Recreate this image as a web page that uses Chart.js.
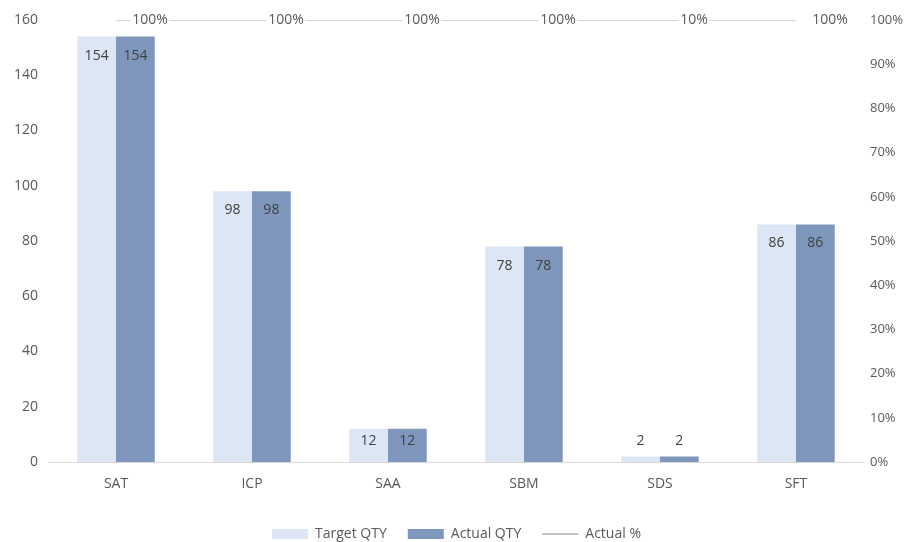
<!DOCTYPE html>
<html>
<head>
<meta charset="utf-8">
<script src="https://cdn.jsdelivr.net/npm/chart.js@4/dist/chart.umd.min.js"></script>
<style>
  html, body { margin: 0; padding: 0; background: #fff; }
  .chart-box { width: 909px; height: 542px; }
</style>
</head>
<body>
<div class="chart-box"><canvas id="chart"></canvas></div>
<script>
const categories = ["SAT", "ICP", "SAA", "SBM", "SDS", "SFT"];
const targetQty = [154, 98, 12, 78, 2, 86];
const actualQty = [154, 98, 12, 78, 2, 86];
const actualPct = [1, 1, 1, 1, 1, 1];
const pctLabels = ["100%", "100%", "100%", "100%", "10%", "100%"];

const textColor = "#595959";
const fontFamily = "'Open Sans', 'Liberation Sans', sans-serif";

// value labels: inside the bar top, or above it when the bar is short
const labelPlugin = {
    id: "valueLabels",
    afterDatasetsDraw(chart) {
        const ctx = chart.ctx;
        ctx.save();
        ctx.font = "14px " + fontFamily;
        ctx.textAlign = "center";
        ctx.textBaseline = "middle";
        [0, 1].forEach(di => {
            const meta = chart.getDatasetMeta(di);
            const values = chart.data.datasets[di].data;
            meta.data.forEach((bar, i) => {
                const h = bar.base - bar.y;
                let y = h >= 30 ? bar.y + Math.min(19, h / 2 - 4) : bar.y - 15;
                ctx.fillStyle = "#404040";
                ctx.fillText(String(values[i]), bar.x, y);
            });
        });
        const lineMeta = chart.getDatasetMeta(2);
        lineMeta.data.forEach((pt, i) => {
            const txt = pctLabels[i];
            const x = pt.x + 34;
            const w = ctx.measureText(txt).width + 4;
            ctx.fillStyle = "#fff";
            ctx.fillRect(x - w / 2, pt.y - 8, w, 16);
            ctx.fillStyle = textColor;
            ctx.fillText(txt, x, pt.y);
        });
        ctx.restore();
    }
};

new Chart(document.getElementById("chart"), {
    data: {
        labels: categories,
        datasets: [
            {
                type: "bar",
                label: "Target QTY",
                data: targetQty,
                backgroundColor: "#DCE6F4",
                yAxisID: "y",
                order: 2
            },
            {
                type: "bar",
                label: "Actual QTY",
                data: actualQty,
                backgroundColor: "#8097BD",
                yAxisID: "y",
                order: 2
            },
            {
                type: "line",
                label: "Actual %",
                data: actualPct,
                borderColor: "#C9C9C9",
                borderWidth: 1.5,
                pointRadius: 0,
                yAxisID: "y1",
                order: 1
            }
        ]
    },
    options: {
        responsive: true,
        maintainAspectRatio: false,
        animation: false,
        datasets: {
            bar: { categoryPercentage: 0.57, barPercentage: 1 }
        },
        layout: { padding: { left: 4, right: 0, top: 20, bottom: -9 } },
        plugins: {
            tooltip: { enabled: false },
            legend: {
                position: "bottom",
                labels: {
                    color: textColor,
                    font: { family: fontFamily, size: 14 },
                    usePointStyle: true,
                    pointStyleWidth: 36,
                    boxHeight: 10,
                    padding: 21,
                    sort: (a, b) => a.datasetIndex - b.datasetIndex,
                    generateLabels(chart) {
                        const items = Chart.defaults.plugins.legend.labels.generateLabels(chart);
                        items.forEach(it => {
                            if (it.datasetIndex === 2) {
                                it.pointStyle = "line";
                                it.lineWidth = 1.5;
                                it.strokeStyle = "#B0B0B0";
                            } else {
                                it.pointStyle = "rect";
                                it.lineWidth = 0;
                            }
                        });
                        return items;
                    }
                }
            }
        },
        scales: {
            x: {
                grid: { display: false, drawTicks: false },
                border: { display: true, color: "#D9D9D9", width: 1 },
                ticks: { color: textColor, font: { family: fontFamily, size: 14, lineHeight: 1 }, padding: 15 }
            },
            y: {
                position: "left",
                min: 0,
                max: 160,
                grid: { display: false, drawTicks: false },
                border: { display: false },
                ticks: { stepSize: 20, color: textColor, font: { family: fontFamily, size: 14 }, padding: 10 }
            },
            y1: {
                position: "right",
                min: 0,
                max: 1,
                grid: { display: false, drawTicks: false },
                border: { display: false },
                ticks: {
                    stepSize: 0.1,
                    color: textColor,
                    font: { family: fontFamily, size: 13 },
                    padding: 6,
                    callback: v => Math.round(v * 100) + "%"
                }
            }
        }
    },
    plugins: [labelPlugin]
});
</script>
</body>
</html>
